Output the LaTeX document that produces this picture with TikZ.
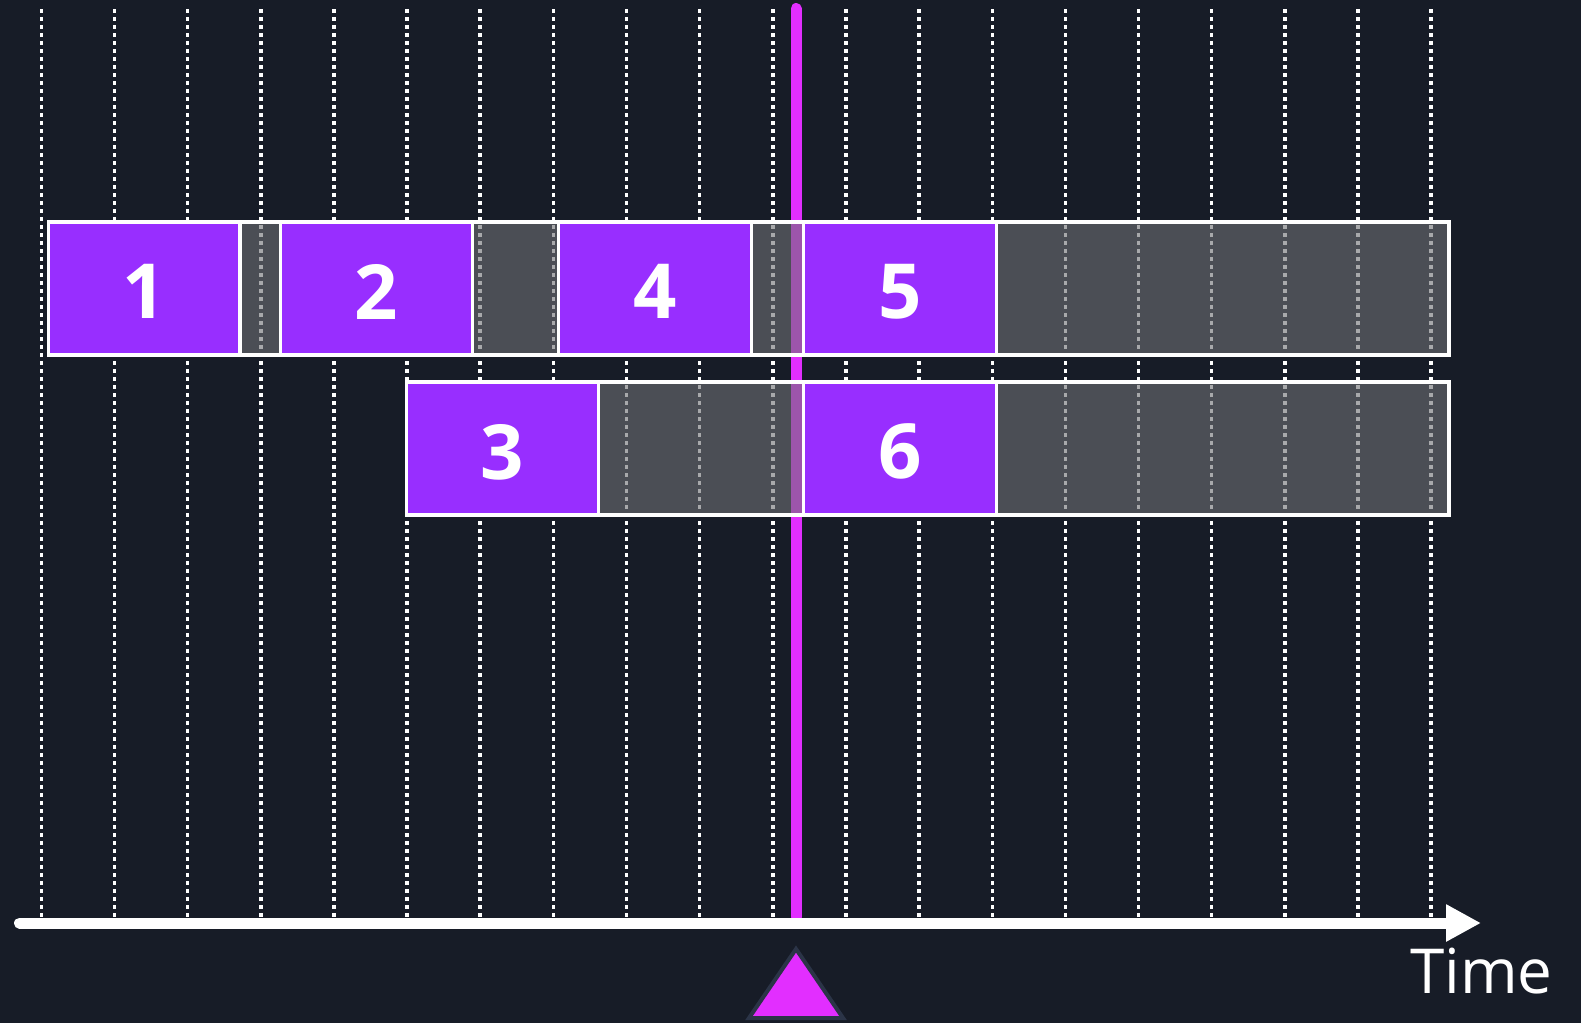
\documentclass[tikz,border=0pt]{standalone}
\usepackage{fontspec}
\setmainfont{Open Sans}
\usetikzlibrary{arrows.meta}
\definecolor{bgc}{HTML}{171C27}
\definecolor{purp}{HTML}{982EFF}
\definecolor{magen}{HTML}{E22EFF}
\definecolor{greyseg}{HTML}{6E7074}
\definecolor{triedge}{HTML}{2B3447}
\tikzset{
  grid/.style={white, line width=3.5pt, dash pattern=on 3.5pt off 4.5pt},
  segbase/.style={draw=white, line width=3.5pt, minimum height=133pt, inner sep=0pt, outer sep=0pt},
  idle/.style={segbase, fill=greyseg, fill opacity=0.6},
  job/.style={segbase, fill=purp, text=white, font=\fontsize{76}{76}\selectfont\bfseries},
  nowline/.style={magen, line width=11pt, line cap=round},
  axisline/.style={white, line width=11pt, line cap=round, -{Triangle[length=35pt,width=35pt]}},
}
\newcommand{\mkseg}[6]{%
  \pgfmathsetmacro{\segc}{(#2+#3)/2}%
  \pgfmathsetmacro{\segw}{#3-#2}%
  \node[#5, minimum width=\segw pt] (#1) at (\segc,#4) {\raisebox{-3pt}[\height][0pt]{#6}};%
}
\begin{document}
\begin{tikzpicture}[x=1pt,y=-1pt]
\fill[bgc] (0,0) rectangle (1581,1023);
\useasboundingbox (0,0) rectangle (1581,1023);
% grid lines
\foreach \k in {0,...,19}{
  \pgfmathsetmacro{\gx}{41.3+73.15*\k}
  \draw[grid] (\gx,9) -- (\gx,917);
}
% now line
\coordinate (nowtop) at (796,8.5);
\coordinate (nowbot) at (796,917);
\draw[nowline] (nowtop) -- (nowbot);
% idle segments
\mkseg{g1}{240}{280.5}{288.5}{idle}{}
\mkseg{g2}{472.5}{558.5}{288.5}{idle}{}
\mkseg{g3}{751.5}{803.5}{288.5}{idle}{}
\mkseg{g4}{996.5}{1449}{288.5}{idle}{}
\mkseg{g5}{598.5}{803.5}{448.5}{idle}{}
\mkseg{g6}{996.5}{1449}{448.5}{idle}{}
% jobs
\mkseg{j1}{48.5}{240}{288.5}{job}{1}
\mkseg{j2}{280.5}{472.5}{288.5}{job}{2}
\mkseg{j4}{558.5}{751.5}{288.5}{job}{4}
\mkseg{j5}{803.5}{996.5}{288.5}{job}{5}
\mkseg{j3}{406.5}{598.5}{448.5}{job}{3}
\mkseg{j6}{803.5}{996.5}{448.5}{job}{6}
% axis
\coordinate (axstart) at (19.5,923);
\coordinate (axend) at (1481,923);
\draw[axisline] (axstart) -- (axend);
\node[anchor=base west, inner sep=0pt, text=white, font=\fontsize{62}{62}\selectfont] (time) at (1410,993) {Time};
% marker triangle
\draw[fill=magen, draw=triedge, line width=4pt, line join=miter] (796,949) -- (843,1018) -- (749,1018) -- cycle;
\end{tikzpicture}
\end{document}
